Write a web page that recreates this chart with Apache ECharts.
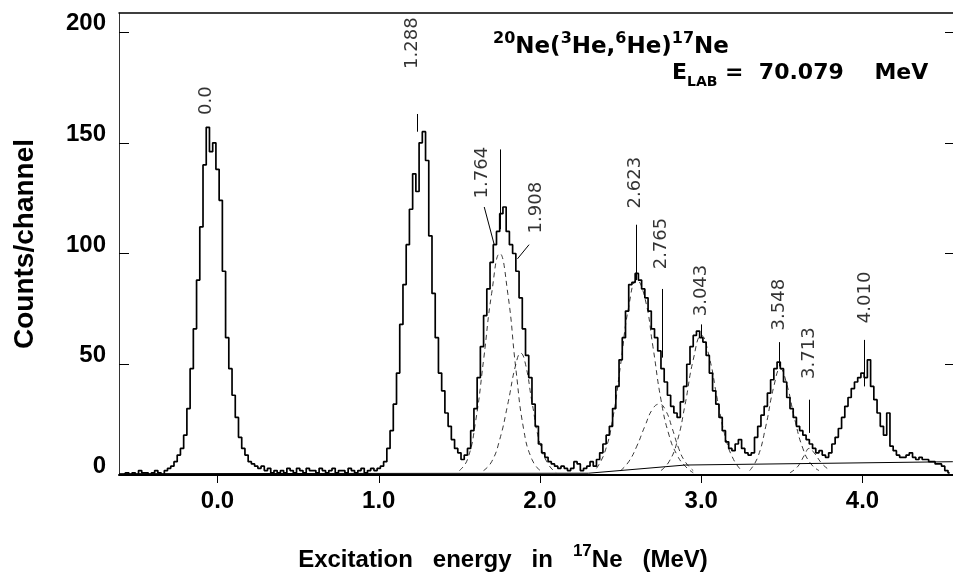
<!DOCTYPE html>
<html>
<head>
<meta charset="UTF-8">
<title>20Ne(3He,6He)17Ne</title>
<script src="https://cdn.jsdelivr.net/npm/echarts@6/dist/echarts.min.js"></script>
<style>
  html, body { margin: 0; padding: 0; background: #fff; }
  #main { width: 953px; height: 577px; }
</style>
</head>
<body>
<div id="main"></div>
<script type="text/javascript">
	// histogram: counts per channel, each block starts at histStarts[i] (MeV), channel width binWidth
	var binWidth = 0.02;
	var histStarts = [-0.60, -0.28, 0.42, 1.00, 1.56, 2.32, 3.32, 3.84];
	var histCounts = [
		[0, 0, 1, 0, 1, 0, 2, 1, 1, 0, 1, 2, 1, 0, 2, 3],
		[4, 6, 9, 12, 18, 30, 48, 66, 88, 112, 140, 157, 146, 150, 138, 124, 92, 62, 48, 36,
			26, 17, 12, 9, 6, 5, 4, 3, 4, 2, 3, 1, 2, 1, 2],
		[1, 3, 2, 1, 3, 2, 1, 3, 2, 2, 1, 3, 2, 1, 2, 3, 1, 2, 2, 1, 3, 2, 1, 2, 3, 1, 2, 3, 2],
		[3, 4, 6, 12, 20, 32, 46, 68, 86, 104, 120, 136, 128, 150, 155, 142, 108, 82, 62, 46,
			38, 28, 22, 16, 12, 10, 7, 9],
		[12, 20, 30, 44, 58, 72, 84, 96, 104, 110, 118, 121, 110, 104, 100, 92, 80, 66, 54, 44,
			32, 22, 14, 10, 8, 6, 5, 4, 3, 4, 3, 2, 3, 6, 5, 2, 3, 4],
		[6, 4, 7, 10, 14, 18, 22, 30, 40, 52, 62, 74, 86, 87, 91, 88, 84, 80, 74, 66,
			62, 56, 48, 42, 36, 31, 28, 26, 33, 40, 50, 58, 63, 65, 62, 60, 54, 46, 38, 32,
			26, 20, 15, 12, 11, 14, 16, 12, 10, 9],
		[10, 17, 22, 27, 31, 37, 43, 48, 51, 48, 42, 35, 30, 26, 22, 20, 18, 16, 14, 12,
			10, 11, 9, 8, 10, 14],
		[17, 21, 26, 31, 35, 39, 42, 44, 46, 44, 52, 40, 34, 28, 22, 18, 28, 13, 11, 9,
			8, 8, 9, 10, 8, 7, 8, 7, 7, 6, 6, 5, 5, 4, 2, 1]
	];

	// fitted components (dashed), [E, counts]
	var comp1764 = [[1.50, 2], [1.55, 7], [1.60, 24], [1.65, 52], [1.70, 82], [1.75, 100], [1.80, 82], [1.85, 48], [1.90, 20], [1.95, 7], [2.00, 2]];
	var comp1908 = [[1.65, 2], [1.70, 6], [1.75, 16], [1.80, 32], [1.85, 50], [1.88, 55], [1.91, 50], [1.95, 33], [2.00, 14], [2.05, 5], [2.10, 1]];
	var comp2623 = [[2.35, 3], [2.40, 10], [2.45, 25], [2.50, 50], [2.55, 76], [2.60, 88], [2.65, 80], [2.70, 58], [2.75, 34], [2.80, 18], [2.85, 9], [2.90, 4], [2.95, 1]];
	var comp2765 = [[2.50, 2], [2.55, 6], [2.60, 13], [2.65, 22], [2.70, 30], [2.74, 32], [2.78, 29], [2.82, 21], [2.86, 12], [2.90, 6], [2.95, 2]];
	var comp3043 = [[2.75, 2], [2.80, 6], [2.85, 15], [2.90, 32], [2.95, 52], [3.00, 63], [3.05, 53], [3.10, 34], [3.15, 17], [3.20, 7], [3.25, 2]];
	var comp3548 = [[3.30, 2], [3.35, 8], [3.40, 22], [3.45, 40], [3.49, 48], [3.53, 41], [3.58, 25], [3.63, 12], [3.68, 5], [3.73, 2]];
	var comp3713 = [[3.55, 1], [3.60, 4], [3.64, 9], [3.67, 12], [3.70, 10], [3.75, 5], [3.80, 2]];
	var background = [[-0.611, 0.6], [2.30, 0.8], [2.90, 4.5], [4.56, 6]];

	// peak labels and their marker lines
	var peakNames = ['0.0', '1.288', '1.764', '1.908', '2.623', '2.765', '3.043', '3.548', '3.713', '4.010'];
	var labelE = [-0.071, 1.21, 1.642, 1.975, 2.593, 2.753, 2.999, 3.481, 3.667, 4.019];
	var labelCounts = [169, 195, 136.5, 120.7, 132, 104.5, 83.3, 76.9, 55, 80.2];
	var markerLines = [
		[[1.24, 163], [1.24, 155]],
		[[1.654, 121], [1.716, 104]],
		[[1.932, 104], [1.86, 97.6]],
		[[1.753, 147], [1.753, 111]],
		[[2.595, 113], [2.595, 88]],
		[[2.759, 84], [2.759, 53]],
		[[2.998, 68], [2.998, 62]],
		[[3.486, 60], [3.486, 49]],
		[[3.671, 34], [3.671, 19]],
		[[4.01, 61], [4.01, 40]]
	];

	var xTicks = [0, 1, 2, 3, 4];
	var yTicks = [0, 50, 100, 150, 200];
	var yTicksRight = [50, 100, 150, 200];

	var boldFont = 'Liberation Sans, Arial, sans-serif';
	var titleFont = 'DejaVu Sans, sans-serif';

	var histData = [];
	for (var b = 0; b < histStarts.length; b++) {
		for (var i = 0; i < histCounts[b].length; i++) {
			histData.push([+(histStarts[b] + i * binWidth).toFixed(3), histCounts[b][i]]);
		}
	}
	var labelData = [];
	for (var k = 0; k < peakNames.length; k++) {
		labelData.push({ name: peakNames[k], value: [labelE[k], labelCounts[k]] });
	}
	var lineData = [];
	for (var m = 0; m < markerLines.length; m++) {
		lineData.push({ coords: markerLines[m] });
	}

	function dashed(data) {
		return {
			type : 'line',
			data : data,
			smooth : true,
			showSymbol : false,
			silent : true,
			lineStyle : { color : '#222', width : 0.9, type : [5, 4] },
			z : 2
		};
	}

	var chart = echarts.init(document.getElementById('main'), null, { renderer : 'canvas' });
	chart.setOption({
		animation : false,
		backgroundColor : '#fff',
		title : [ {
			left : 493, top : 31, padding : 0,
			text : '{s|20}{b|Ne(}{s|3}{b|He,}{s|6}{b|He)}{s|17}{b|Ne}',
			textStyle : { rich : {
				b : { fontFamily : titleFont, fontWeight : 'bold', fontSize : 23, lineHeight : 32, color : '#000' },
				s : { fontFamily : titleFont, fontWeight : 'bold', fontSize : 16, lineHeight : 15, verticalAlign : 'top', color : '#000' }
			} }
		}, {
			left : 672, top : 57, padding : 0,
			text : '{b|E}{u|LAB}{b| =  70.079    MeV}',
			textStyle : { rich : {
				b : { fontFamily : titleFont, fontWeight : 'bold', fontSize : 22, lineHeight : 32, color : '#000' },
				u : { fontFamily : titleFont, fontWeight : 'bold', fontSize : 14, lineHeight : 14, verticalAlign : 'bottom', color : '#000' }
			} }
		} ],
		grid : { left : 119, right : -3, top : 13, bottom : 102 },
		xAxis : [ {
			type : 'value', position : 'bottom', min : -0.611, max : 4.561,
			axisLine : { onZero : false, lineStyle : { color : '#000', width : 2 } },
			axisTick : { customValues : xTicks, length : 8, lineStyle : { color : '#000', width : 1 } },
			axisLabel : {
				customValues : xTicks, margin : 14,
				formatter : function(v) { return v.toFixed(1); },
				fontFamily : boldFont, fontWeight : 'bold', fontSize : 24, color : '#000'
			},
			splitLine : { show : false },
			name : '{t|Excitation   energy   in   }{s|17}{t|Ne   (MeV)}',
			nameLocation : 'middle', nameGap : 68,
			nameTextStyle : {
				padding : [0, 66, 0, 0],
				rich : {
					t : { fontFamily : boldFont, fontWeight : 'bold', fontSize : 24, lineHeight : 34, color : '#000' },
					s : { fontFamily : boldFont, fontWeight : 'bold', fontSize : 17, lineHeight : 17, verticalAlign : 'top', color : '#000' }
				}
			}
		}, {
			type : 'value', position : 'top', min : -0.611, max : 4.561,
			axisLine : { onZero : false, lineStyle : { color : '#000', width : 1.5 } },
			axisTick : { show : false }, axisLabel : { show : false }, splitLine : { show : false }
		} ],
		yAxis : [ {
			type : 'value', position : 'left', min : 0, max : 208.6,
			axisLine : { show : true, onZero : false, lineStyle : { color : '#333', width : 1 } },
			axisTick : { inside : true, customValues : yTicks, length : 10, lineStyle : { color : '#000' } },
			axisLabel : {
				customValues : yTicks, margin : 13, verticalAlign : 'bottom', lineHeight : 17,
				fontFamily : boldFont, fontWeight : 'bold', fontSize : 24, color : '#000'
			},
			splitLine : { show : false },
			name : 'Counts/channel', nameLocation : 'middle', nameRotate : 90, nameGap : 80,
			nameTextStyle : { fontFamily : boldFont, fontWeight : 'bold', fontSize : 28, color : '#000' }
		}, {
			type : 'value', position : 'right', min : 0, max : 208.6,
			axisLine : { show : false, onZero : false },
			axisTick : { inside : true, customValues : yTicksRight, length : 8, lineStyle : { color : '#000' } },
			axisLabel : { show : false }, splitLine : { show : false }
		} ],
		series : [
			dashed(comp1764), dashed(comp1908), dashed(comp2623), dashed(comp2765),
			dashed(comp3043), dashed(comp3548), dashed(comp3713),
			{
				type : 'line', data : background, showSymbol : false, silent : true,
				lineStyle : { color : '#000', width : 1 }, z : 2
			}, {
				type : 'line', data : histData, step : 'middle', showSymbol : false, silent : true,
				lineStyle : { color : '#000', width : 1.7 }, z : 3
			}, {
				type : 'lines', coordinateSystem : 'cartesian2d', data : lineData, silent : true,
				lineStyle : { color : '#000', width : 1, opacity : 1 }, z : 4
			}, {
				type : 'scatter', data : labelData, symbolSize : 0.1, silent : true,
				itemStyle : { color : 'rgba(0,0,0,0)' },
				label : {
					show : true, position : 'inside', rotate : 90,
					formatter : function(p) { return p.name; },
					fontFamily : titleFont, fontSize : 18, color : '#000'
				},
				z : 5
			}
		]
	});
</script>
</body>
</html>
